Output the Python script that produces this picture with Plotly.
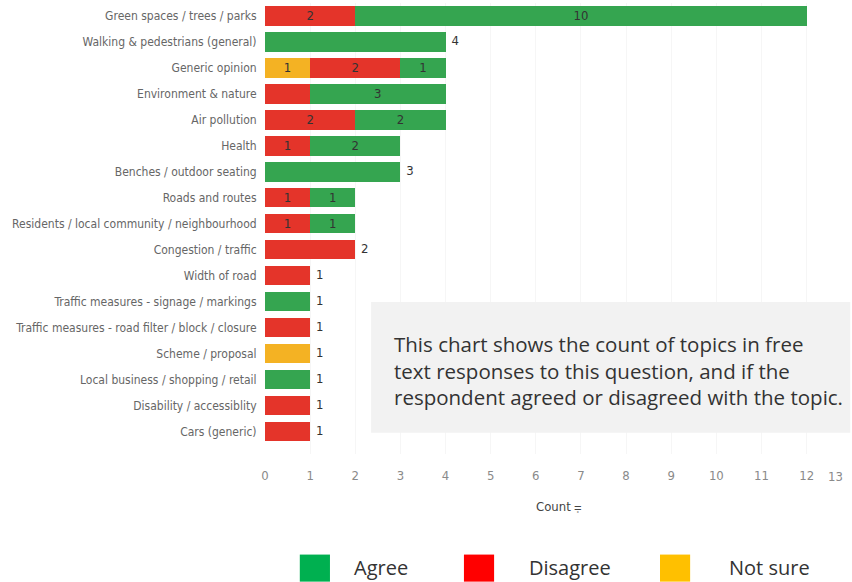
import plotly.graph_objects as go

categories = [
    "Green spaces / trees / parks",
    "Walking & pedestrians (general)",
    "Generic opinion",
    "Environment & nature",
    "Air pollution",
    "Health",
    "Benches / outdoor seating",
    "Roads and routes",
    "Residents / local community / neighbourhood",
    "Congestion / traffic",
    "Width of road",
    "Traffic measures - signage / markings",
    "Traffic measures - road filter / block / closure",
    "Scheme / proposal",
    "Local business / shopping / retail",
    "Disability / accessiblity",
    "Cars (generic)",
]
not_sure = [0, 0, 1, 0, 0, 0, 0, 0, 0, 0, 0, 0, 0, 1, 0, 0, 0]
disagree = [2, 0, 2, 1, 2, 1, 0, 1, 1, 2, 1, 0, 1, 0, 0, 1, 1]
agree = [10, 4, 1, 3, 2, 2, 3, 1, 1, 0, 0, 1, 0, 0, 1, 0, 0]
x_ticks = list(range(0, 13))
hidden_labels = [("Environment & nature", "Disagree")]

series = [
    ("Not sure", not_sure, "#f4b223"),
    ("Disagree", disagree, "#e4342a"),
    ("Agree", agree, "#35a550"),
]
legend_items = [("Agree", "#00b050"), ("Disagree", "#ff0000"), ("Not sure", "#ffc000")]

label_font = "Liberation Sans Narrow, DejaVu Sans Condensed, Arial Narrow, sans-serif"

n_segments = [sum(1 for s in (a, b, c) if s > 0) for a, b, c in zip(not_sure, disagree, agree)]
totals = [a + b + c for a, b, c in zip(not_sure, disagree, agree)]

fig = go.Figure()
for name, vals, color in series:
    texts = []
    for cat, v, n in zip(categories, vals, n_segments):
        if v > 0 and n > 1 and (cat, name) not in hidden_labels:
            texts.append(str(v))
        else:
            texts.append("")
    fig.add_trace(go.Bar(
        y=categories, x=vals, name=name, orientation="h",
        marker=dict(color=color, line=dict(width=0)),
        text=texts, textposition="inside", insidetextanchor="middle",
        constraintext="none",
        textangle=0, insidetextfont=dict(color="#333333", size=13, family=label_font),
        hoverinfo="skip", showlegend=False,
    ))

single_y = [c for c, n in zip(categories, n_segments) if n == 1]
single_x = [t for t, n in zip(totals, n_segments) if n == 1]
fig.add_trace(go.Scatter(
    y=single_y, x=single_x, mode="text", text=["\u2002" + str(v) for v in single_x],
    textposition="middle right", textfont=dict(color="#333333", size=13, family=label_font),
    hoverinfo="skip", showlegend=False, cliponaxis=False,
))

x_max = 12.85
fig.update_layout(
    width=852, height=582,
    margin=dict(l=265, r=7, t=3, b=128),
    barmode="stack", bargap=0.25,
    plot_bgcolor="white", paper_bgcolor="white",
    xaxis=dict(range=[0, x_max], tickvals=x_ticks, showgrid=True, gridcolor="#f6f6f6",
               zeroline=False, showline=False, ticks="outside", ticklen=9,
               tickcolor="rgba(0,0,0,0)", automargin=False,
               tickfont=dict(family=label_font, size=13, color="#8a8a8a")),
    yaxis=dict(categoryorder="array", categoryarray=categories, autorange="reversed",
               showgrid=False, zeroline=False, showline=False, ticks="outside", ticklen=5,
               tickcolor="rgba(0,0,0,0)", automargin=False,
               tickfont=dict(family=label_font, size=12, color="#666666")),
)

# last tick label squeezed at the right edge
fig.add_annotation(x=x_max, y=0, xref="x", yref="paper", yshift=-22, text="13",
                   showarrow=False, xanchor="right", yanchor="middle",
                   font=dict(family=label_font, size=13, color="#8a8a8a"))
# axis title
fig.add_annotation(x=0.507, y=-0.137, xref="paper", yref="paper", text="Count \u2A66",
                   showarrow=False, font=dict(family=label_font, size=13, color="#444444"))

# info box
fig.add_shape(type="rect", xref="paper", yref="paper", x0=0.183, x1=1.009, y0=0.047, y1=0.337,
              fillcolor="#f2f2f2", line=dict(width=0), layer="above")
fig.add_annotation(x=0.219, y=0.185, xref="paper", yref="paper", xanchor="left", yanchor="middle",
                   align="left", showarrow=False,
                   text="This chart shows the count of topics in free<br>text responses to this question, and if the<br>respondent agreed or disagreed with the topic.",
                   font=dict(family="Open Sans, sans-serif", size=20.5, color="#333333"))

# custom legend
leg_x = [0.060, 0.343, 0.681]
leg_text_x = [0.150, 0.452, 0.797]
for (name, color), lx, tx in zip(legend_items, leg_x, leg_text_x):
    fig.add_shape(type="rect", xref="paper", yref="paper", x0=lx, x1=lx + 0.052,
                  y0=-0.283, y1=-0.223, fillcolor=color, line=dict(width=0))
    fig.add_annotation(x=tx, y=-0.252, xref="paper", yref="paper", xanchor="left",
                       yanchor="middle", showarrow=False, text=name,
                       font=dict(family="Open Sans, sans-serif", size=20, color="#333333"))

fig.write_html("out.html", config={"displayModeBar": False},
               post_script="document.body.style.margin='0';document.body.style.overflow='hidden';")
